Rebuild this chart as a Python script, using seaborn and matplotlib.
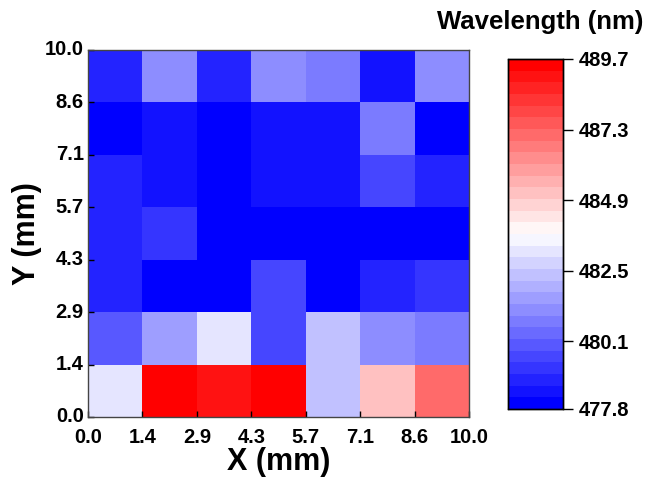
import numpy as np
import pandas as pd
import matplotlib
matplotlib.use("Agg")
import matplotlib.pyplot as plt
import seaborn as sns

# positions on the sample (mm), cell edges
edges = ["0.0", "1.4", "2.9", "4.3", "5.7", "7.1", "8.6", "10.0"]
cbar_ticks = [477.8, 480.1, 482.5, 484.9, 487.3, 489.7]

# wavelength map (nm), rows listed from top (Y 8.6-10.0) to bottom (Y 0.0-1.4)
row_y10 = [478.8, 481.1, 478.8, 481.1, 480.8, 478.5, 481.1]
row_y86 = [477.8, 478.5, 477.8, 478.5, 478.5, 480.8, 477.8]
row_y71 = [478.8, 478.5, 477.8, 478.5, 478.5, 479.5, 478.9]
row_y57 = [478.6, 479.1, 477.8, 477.8, 477.8, 477.8, 477.8]
row_y43 = [478.6, 477.8, 477.8, 479.5, 477.8, 478.9, 479.2]
row_y29 = [479.8, 481.5, 483.2, 479.5, 482.4, 481.1, 480.8]
row_y14 = [483.2, 489.7, 489.3, 489.7, 482.3, 485.2, 487.1]

grid = pd.DataFrame([row_y10, row_y86, row_y71, row_y57, row_y43, row_y29, row_y14])

plt.rcParams["font.family"] = ["Liberation Sans", "DejaVu Sans"]
plt.rcParams["font.weight"] = "bold"

fig = plt.figure(figsize=(6.54, 4.83), dpi=100)
ax = fig.add_axes([88/654, 1 - 417/483, 381/654, 367/483])
cax = fig.add_axes([508/654, 1 - 409/483, 55/654, 350/483])

cmap = plt.get_cmap("bwr").resampled(30)
sns.heatmap(grid, ax=ax, cbar_ax=cax, cmap=cmap, vmin=477.8, vmax=489.7,
            square=False, linewidths=0)

ax.set_xticks(range(8))
ax.set_xticklabels(edges, rotation=0, fontsize=14.5, fontweight="bold")
ax.set_yticks(range(8))
ax.set_yticklabels(edges[::-1], rotation=0, fontsize=14.5, fontweight="bold")
ax.tick_params(direction="in", length=4, width=1)
ax.tick_params(axis="x", pad=8)
ax.tick_params(axis="y", pad=3)
for s in ax.spines.values():
    s.set_visible(True)
    s.set_color("#444444")
    s.set_linewidth(1)
ax.set_xlabel("X (mm)", fontsize=22, fontweight="bold", labelpad=0)
ax.set_ylabel("Y (mm)", fontsize=22, fontweight="bold", labelpad=2)

cax.set_yticks(cbar_ticks)
cax.set_yticklabels([f"{t:.1f}" for t in cbar_ticks], fontsize=14.5, fontweight="bold")
cax.tick_params(direction="out", length=7, width=1, pad=4)
for s in cax.spines.values():
    s.set_visible(True)
    s.set_color("black")
    s.set_linewidth(1)
fig.text(540/654, 1 - 22/483, "Wavelength (nm)", ha="center", va="center",
         fontsize=18.5, fontweight="bold")

fig.savefig("out.png", dpi=100)
